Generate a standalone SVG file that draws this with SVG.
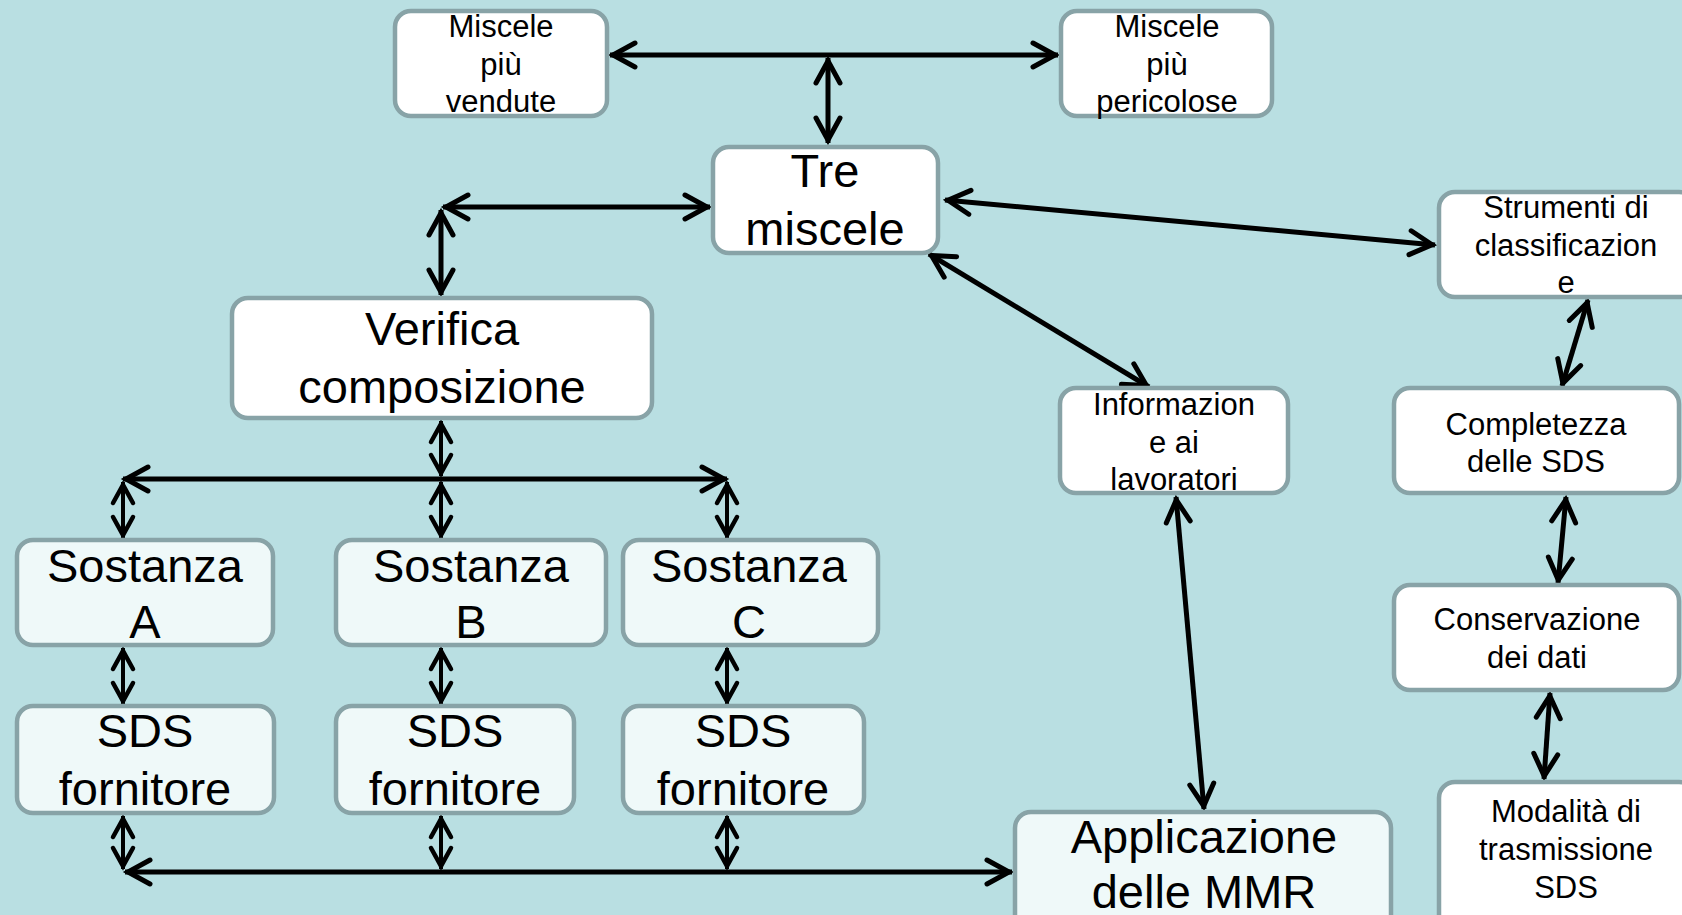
<svg xmlns="http://www.w3.org/2000/svg" width="1682" height="915" viewBox="0 0 1682 915">
<style>
.box{stroke:#88a3a7;stroke-width:4.5}
.w{fill:#ffffff}
.t{fill:#eff9f9}
text{font-family:"Liberation Sans",Arial,sans-serif;fill:#000;text-anchor:middle}
.s{font-size:31px}
.l{font-size:47px}
.c{stroke:#000;stroke-width:5;fill:none;marker-start:url(#ah);marker-end:url(#ah)}
.c2{stroke:#000;stroke-width:4;fill:none;marker-start:url(#ah2);marker-end:url(#ah2)}
</style>
<defs>
<marker id="ah" markerUnits="userSpaceOnUse" markerWidth="40" markerHeight="40" viewBox="-30 -20 40 40" refX="0" refY="0" orient="auto-start-reverse" overflow="visible">
<path d="M-25,-12 L-3,0 L-25,12" fill="none" stroke="#000" stroke-width="5" stroke-linecap="round" stroke-linejoin="miter"/>
</marker>
<marker id="ah2" markerUnits="userSpaceOnUse" markerWidth="40" markerHeight="40" viewBox="-30 -20 40 40" refX="0" refY="0" orient="auto-start-reverse" overflow="visible">
<path d="M-21,-10 L-3,0 L-21,10" fill="none" stroke="#000" stroke-width="4.5" stroke-linecap="round" stroke-linejoin="miter"/>
</marker>
</defs>
<rect width="1682" height="915" fill="#b9dfe2"/>

<g id="connectors">
<path class="c" d="M610,55 H1058"/>
<path class="c" d="M828,58 V143"/>
<path class="c" d="M443,207 H710"/>
<path class="c" d="M441,210 V295"/>
<path class="c" d="M945,200 L1435,245"/>
<path class="c" d="M929,254 L1149,387"/>
<path class="c" d="M1176,497 L1204,809"/>
<path class="c" d="M1588,300 L1562,386"/>
<path class="c" d="M1566,497 L1558,583"/>
<path class="c" d="M1550,693 L1544,779"/>
<path class="c2" d="M441,421 V476"/>
<path class="c" d="M123,479 H727"/>
<path class="c2" d="M123,482 V538"/>
<path class="c2" d="M441,482 V538"/>
<path class="c2" d="M727,482 V538"/>
<path class="c2" d="M123,648 V704"/>
<path class="c2" d="M441,648 V704"/>
<path class="c2" d="M727,648 V704"/>
<path class="c2" d="M123,816 V869"/>
<path class="c2" d="M441,816 V869"/>
<path class="c2" d="M727,816 V869"/>
<path class="c" d="M125,872 H1012"/>
</g>

<g id="n-vendute">
<rect class="box w" x="395" y="11" width="212" height="105" rx="16"/>
<text class="s" x="501" y="37">Miscele</text>
<text class="s" x="501" y="75">più</text>
<text class="s" x="501" y="112">vendute</text>
</g>
<g id="n-pericolose">
<rect class="box w" x="1061" y="11" width="211" height="105" rx="16"/>
<text class="s" x="1167" y="37">Miscele</text>
<text class="s" x="1167" y="75">più</text>
<text class="s" x="1167" y="112">pericolose</text>
</g>
<g id="n-tre">
<rect class="box w" x="713" y="147" width="225" height="106" rx="16"/>
<text class="l" x="825" y="187">Tre</text>
<text class="l" x="825" y="245">miscele</text>
</g>
<g id="n-strumenti">
<rect class="box w" x="1439" y="192" width="256" height="105" rx="16"/>
<text class="s" x="1566" y="218">Strumenti di</text>
<text class="s" x="1566" y="256">classificazion</text>
<text class="s" x="1566" y="293">e</text>
</g>
<g id="n-informazione">
<rect class="box w" x="1060" y="388" width="228" height="105" rx="16"/>
<text class="s" x="1174" y="415">Informazion</text>
<text class="s" x="1174" y="453">e ai</text>
<text class="s" x="1174" y="490">lavoratori</text>
</g>
<g id="n-completezza">
<rect class="box w" x="1394" y="388" width="285" height="105" rx="16"/>
<text class="s" x="1536" y="435">Completezza</text>
<text class="s" x="1536" y="472">delle SDS</text>
</g>
<g id="n-conservazione">
<rect class="box w" x="1394" y="585" width="285" height="105" rx="16"/>
<text class="s" x="1537" y="630">Conservazione</text>
<text class="s" x="1537" y="668">dei dati</text>
</g>
<g id="n-modalita">
<rect class="box w" x="1439" y="782" width="256" height="150" rx="16"/>
<text class="s" x="1566" y="822">Modalità di</text>
<text class="s" x="1566" y="860">trasmissione</text>
<text class="s" x="1566" y="898">SDS</text>
</g>
<g id="n-applicazione">
<rect class="box t" x="1015" y="812" width="376" height="130" rx="16"/>
<text class="l" x="1204" y="853">Applicazione</text>
<text class="l" x="1204" y="908">delle MMR</text>
</g>
<g id="n-verifica">
<rect class="box w" x="232" y="298" width="420" height="120" rx="16"/>
<text class="l" x="442" y="345">Verifica</text>
<text class="l" x="442" y="403">composizione</text>
</g>
<g id="n-sostanza-a">
<rect class="box t" x="17" y="540" width="256" height="105" rx="16"/>
<text class="l" x="145" y="582">Sostanza</text>
<text class="l" x="145" y="638">A</text>
</g>
<g id="n-sostanza-b">
<rect class="box t" x="336" y="540" width="270" height="105" rx="16"/>
<text class="l" x="471" y="582">Sostanza</text>
<text class="l" x="471" y="638">B</text>
</g>
<g id="n-sostanza-c">
<rect class="box t" x="623" y="540" width="255" height="105" rx="16"/>
<text class="l" x="749" y="582">Sostanza</text>
<text class="l" x="749" y="638">C</text>
</g>
<g id="n-sds-a">
<rect class="box t" x="17" y="706" width="257" height="107" rx="16"/>
<text class="l" x="145" y="747">SDS</text>
<text class="l" x="145" y="805">fornitore</text>
</g>
<g id="n-sds-b">
<rect class="box t" x="336" y="706" width="238" height="107" rx="16"/>
<text class="l" x="455" y="747">SDS</text>
<text class="l" x="455" y="805">fornitore</text>
</g>
<g id="n-sds-c">
<rect class="box t" x="623" y="706" width="241" height="107" rx="16"/>
<text class="l" x="743" y="747">SDS</text>
<text class="l" x="743" y="805">fornitore</text>
</g>
</svg>
